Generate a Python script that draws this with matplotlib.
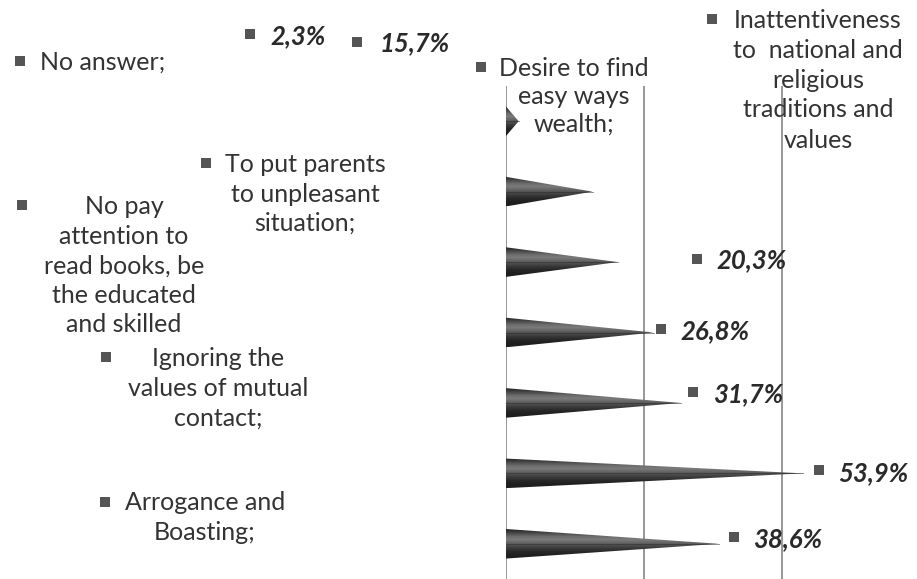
import numpy as np
import matplotlib
matplotlib.use("Agg")
import matplotlib.pyplot as plt
from matplotlib.patches import Polygon, Rectangle

# ---- data ----
categories = [
    "No answer;",
    "To put parents\nto unpleasant\nsituation;",
    "Desire to find\neasy ways\nwealth;",
    "No pay\nattention to\nread books, be\nthe educated\nand skilled",
    "Ignoring the\nvalues of mutual\ncontact;",
    "Inattentiveness\nto  national and\nreligious\ntraditions and\nvalues",
    "Arrogance and\nBoasting;",
]
values = [2.3, 15.7, 20.3, 26.8, 31.7, 53.9, 38.6]
grid_ticks = [0, 25, 50]

# ---- layout (pixel positions in a 917x579 canvas) ----
W, H = 917, 579
# category label: (square x, square y, text x, first line y, align)
cat_layout = [
    (20, 61, 40, 62, "left"),
    (206, 163, 305, 165, "center"),
    (481, 67, 574, 68, "center"),
    (22, 205, 124, 207, "center"),
    (106, 357, 218, 358, "center"),
    (712, 19, 818, 20, "center"),
    (105, 502, 205, 503, "center"),
]
cat_spacing = [29, 29, 28, 29.5, 30, 30, 30]
# value label: (square x, square y, text x, text y)
val_layout = [
    (250, 34, 270, 36),
    (357, 42, 380, 43),
    (697, 259, 716, 260),
    (661, 329, 680, 331),
    (693, 392, 713, 394),
    (819, 470, 838, 473),
    (734, 537, 753, 539),
]

plt.rcParams["font.family"] = ["Lato", "DejaVu Sans"]
TXT = "#333333"
SQ = "#555555"

fig = plt.figure(figsize=(W / 100, H / 100), dpi=100)
fig.patch.set_facecolor("white")

ax_left, ax_right, ax_top, ax_bottom = 506, 917, 86, 579
ax = fig.add_axes([ax_left / W, 1 - ax_bottom / H,
                   (ax_right - ax_left) / W, (ax_bottom - ax_top) / H])
px_per_unit = 5.51
ax.set_xlim(0, (ax_right - ax_left) / px_per_unit)
n = len(values)
ax.set_ylim(n - 0.5, -0.5)
for s in ax.spines.values():
    s.set_visible(False)
ax.set_xticks([])
ax.set_yticks([])
for g in grid_ticks:
    ax.axvline(g, color="#7a7a7a", lw=1.1, zorder=1)

# gradient image used to fill the cones
grad = np.array([0.18, 0.30, 0.42, 0.48, 0.40, 0.30, 0.22, 0.16, 0.13, 0.12])
img = np.tile(grad[:, None], (1, 50))
h = 0.42
for i, v in enumerate(values):
    verts = [(0, i - h / 2), (v, i), (0, i + h / 2)]
    poly = Polygon(verts, closed=True, facecolor="none", edgecolor="none", zorder=2)
    ax.add_patch(poly)
    im = ax.imshow(img, cmap="gray", vmin=0, vmax=1, aspect="auto",
                   extent=[0, v, i + h / 2, i - h / 2], zorder=2,
                   interpolation="bilinear")
    im.set_clip_path(poly)
    ax.plot([0, v], [i, i], color="#2a2a2a", lw=0.6, zorder=3, alpha=0.6)


def fx(x):
    return x / W


def fy(y):
    return 1 - y / H


def square(x, y, s=10):
    fig.add_artist(Rectangle((fx(x - s / 2), fy(y + s / 2)), s / W, s / H,
                             transform=fig.transFigure, facecolor=SQ,
                             edgecolor="none"))


fs = 18
for cat, (sx, sy, tx, ty, al), sp in zip(categories, cat_layout, cat_spacing):
    square(sx, sy)
    for k, line in enumerate(cat.split("\n")):
        fig.text(fx(tx), fy(ty + k * sp), line, ha=al, va="center",
                 fontsize=fs, color=TXT)

for v, (sx, sy, tx, ty) in zip(values, val_layout):
    square(sx, sy)
    lab = f"{v:.1f}".replace(".", ",") + "%"
    fig.text(fx(tx), fy(ty), lab, ha="left", va="center", fontsize=18.5,
             fontweight="bold", fontstyle="italic", color="#2a2a2a")

fig.savefig("out.png", dpi=100, facecolor="white")
